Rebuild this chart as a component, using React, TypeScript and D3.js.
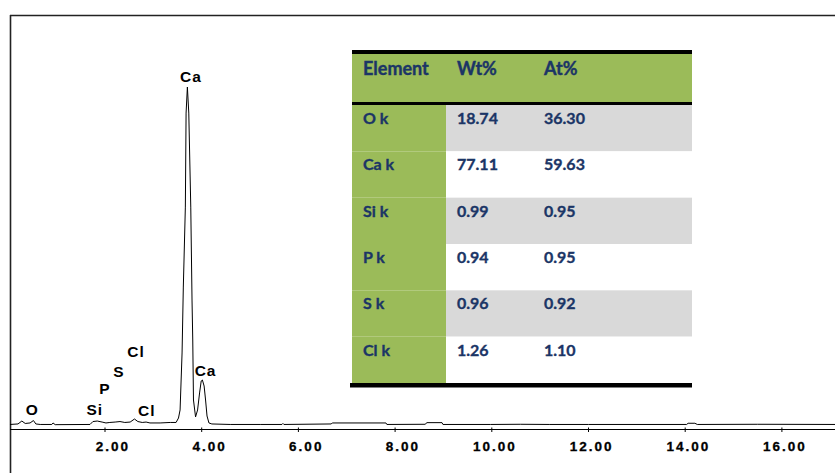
import React from "react";
import * as d3 from "d3";

// spectrum: energy (keV) and counts
const spectrumKeV = [
  0.035, 0.2, 0.28, 0.35, 0.45, 0.52, 0.57, 0.66, 0.9, 0.925, 0.97,
  1.69, 1.75, 1.84, 1.94, 2.02, 2.1, 2.21, 2.31, 2.41, 2.52, 2.61, 2.68, 2.77, 2.85, 2.93,
  3.14, 3.35, 3.47, 3.52, 3.553, 3.594, 3.62, 3.662, 3.677, 3.704, 3.733, 3.774, 3.8, 3.815,
  3.83, 3.873, 3.915, 3.956, 3.99, 4.014, 4.05, 4.08, 4.11, 4.15, 4.21,
  4.59, 5.21, 5.66, 5.68, 5.7, 6.68, 6.7, 7.81, 7.83, 8.62, 8.66, 8.97, 8.99,
  9.97, 10.59, 11.2, 12.0, 14.03, 14.06, 14.2, 14.25, 15.5, 17.1,
];
const spectrumCounts = [
  48, 53, 82, 58, 63, 87, 53, 48, 48, 63, 46,
  48, 77, 82, 72, 63, 68, 72, 77, 68, 72, 102, 77, 68, 72, 63,
  63, 68, 68, 112, 192, 758, 1413, 2207, 3141, 3400, 3141, 2207, 1284, 887,
  291, 123, 192, 361, 480, 490, 430, 291, 132, 63, 53,
  48, 48, 48, 58, 48, 53, 63, 63, 48, 50, 66, 66, 48,
  48, 50, 48, 48, 48, 60, 60, 48, 50, 48,
];

// peak labels: text, energy and count level of the label baseline
const peakLabels = ["O", "Si", "P", "S", "Cl", "Cl", "Ca", "Ca"];
const peakLabelKeV = [0.497, 1.788, 2.0, 2.29, 2.642, 2.864, 4.08, 3.776];
const peakLabelCounts = [147, 147, 346, 524, 716, 137, 527, 3447];

const xTicks = [2, 4, 6, 8, 10, 12, 14, 16];

// quantification table
const tableHeaders = ["Element", "Wt%", "At%"];
const elementRows = ["O k", "Ca k", "Si k", "P k", "S k", "Cl k"];
const wtPercent = [18.74, 77.11, 0.99, 0.94, 0.96, 1.26];
const atPercent = [36.3, 59.63, 0.95, 0.95, 0.92, 1.1];

const W = 835;
const H = 473;

export default function App() {
  const x = d3.scaleLinear().domain([0, 2]).range([8.3, 105]);
  const y = d3.scaleLinear().domain([0, 3400]).range([429.3, 87]);

  const pts = spectrumKeV.map((k, i) => [k, spectrumCounts[i]] as [number, number]);
  const line = d3
    .line<[number, number]>()
    .x((d) => x(d[0]))
    .y((d) => y(d[1]));

  const fmt = d3.format(".2f");

  // table geometry
  const tLeft = 352;
  const tRight = 692;
  const col1 = 446;
  const headTop = 54;
  const headBottom = 102;
  const bodyTop = 105;
  const bodyBottom = 383;
  const rowY = d3.scaleBand().domain(elementRows).range([bodyTop, bodyBottom]);
  const colX = [363, 457, 544];
  const navy = "#1b3566";

  return (
    <svg
      width={W}
      height={H}
      style={{ position: "absolute", left: 0, top: 0, background: "#fff" }}
    >
      {/* frame */}
      <line x1={10.5} x2={10.5} y1={15} y2={H} stroke="#222" strokeWidth={1.6} />
      <line x1={10} x2={W} y1={15.5} y2={15.5} stroke="#222" strokeWidth={1.6} />

      {/* x axis */}
      <line x1={10} x2={W} y1={429.5} y2={429.5} stroke="#000" strokeWidth={1.2} />
      {xTicks.map((t) => (
        <g key={t}>
          <line x1={x(t)} x2={x(t)} y1={427.5} y2={432} stroke="#000" strokeWidth={1} />
          <text
            x={x(t) + 25}
            y={451}
            textAnchor="end"
            fontFamily="Liberation Sans, Arial, sans-serif"
            fontWeight="bold"
            fontSize={13.5}
            letterSpacing={2}
            stroke="#000"
            strokeWidth={0.3}
            fill="#000"
          >
            {fmt(t)}
          </text>
        </g>
      ))}

      {/* spectrum */}
      <path d={line(pts) ?? ""} fill="none" stroke="#000" strokeWidth={1} />

      {peakLabels.map((l, i) => (
        <text
          key={i}
          x={x(peakLabelKeV[i])}
          y={y(peakLabelCounts[i])}
          textAnchor="middle"
          fontFamily="Liberation Sans, Arial, sans-serif"
          fontWeight="bold"
          fontSize={15.5}
          letterSpacing={1}
          fill="#000"
        >
          {l}
        </text>
      ))}

      {/* table */}
      <rect x={tLeft} y={headTop} width={tRight - tLeft} height={headBottom - headTop} fill="#9bbb59" />
      {elementRows.map((r, i) => (
        <g key={r}>
          <rect x={tLeft} y={rowY(r)} width={col1 - tLeft} height={rowY.bandwidth()} fill="#9bbb59" />
          <rect
            x={col1}
            y={rowY(r)}
            width={tRight - col1}
            height={rowY.bandwidth()}
            fill={i % 2 === 0 ? "#d9d9d9" : "#ffffff"}
          />
          {[r, fmt(wtPercent[i]), fmt(atPercent[i])].map((v, j) => (
            <text
              key={j}
              x={colX[j]}
              y={(rowY(r) ?? 0) + 19}
              fontFamily="Lato, sans-serif"
              fontWeight="bold"
              fontSize={16}
              stroke={navy}
              strokeWidth={0.35}
              fill={navy}
            >
              {v}
            </text>
          ))}
        </g>
      ))}
      {tableHeaders.map((h, j) => (
        <text
          key={h}
          x={colX[j]}
          y={75}
          fontFamily="Lato, sans-serif"
          fontWeight="bold"
          fontSize={18}
          stroke={navy}
          strokeWidth={0.4}
          fill={navy}
        >
          {h}
        </text>
      ))}
      <rect x={tLeft} y={50} width={tRight - tLeft} height={4} fill="#000" />
      <rect x={tLeft} y={headBottom} width={tRight - tLeft} height={3} fill="#000" />
      <rect x={350} y={bodyBottom} width={tRight - 350} height={4.5} fill="#000" />
    </svg>
  );
}
